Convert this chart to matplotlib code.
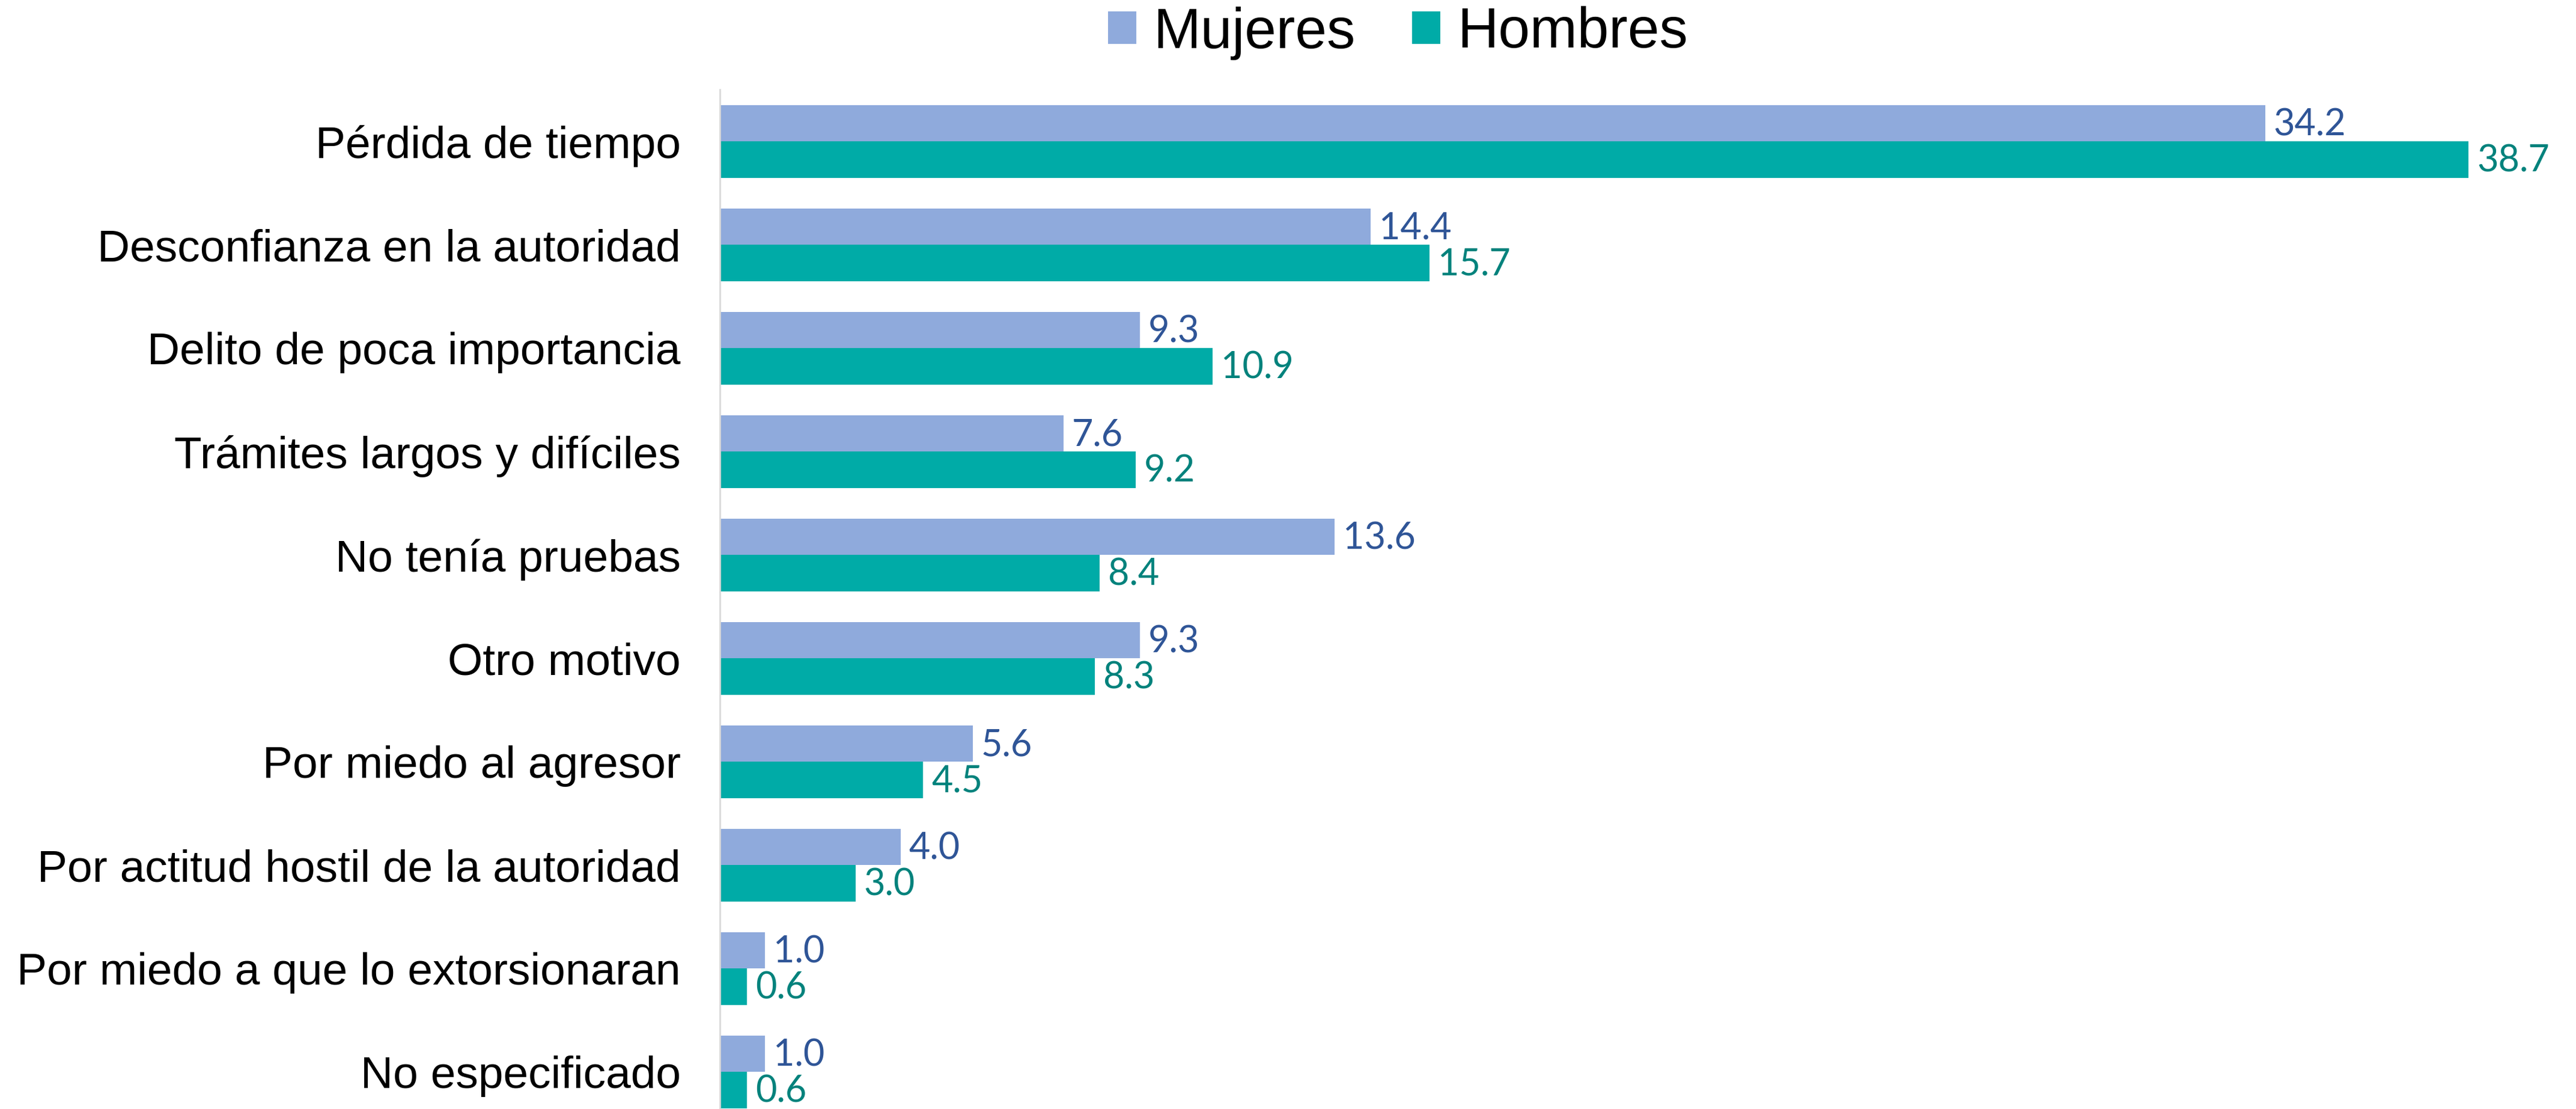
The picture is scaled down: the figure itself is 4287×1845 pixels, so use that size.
import numpy as np
import matplotlib
matplotlib.use("Agg")
import matplotlib.pyplot as plt

categorias = [
    "Pérdida de tiempo",
    "Desconfianza en la autoridad",
    "Delito de poca importancia",
    "Trámites largos y difíciles",
    "No tenía pruebas",
    "Otro motivo",
    "Por miedo al agresor",
    "Por actitud hostil de la autoridad",
    "Por miedo a que lo extorsionaran",
    "No especificado",
]
mujeres = [34.2, 14.4, 9.3, 7.6, 13.6, 9.3, 5.6, 4.0, 1.0, 1.0]
hombres = [38.7, 15.7, 10.9, 9.2, 8.4, 8.3, 4.5, 3.0, 0.6, 0.6]

col_muj = "#8FAADC"
col_hom = "#00ABA7"
txt_muj = "#2F5597"
txt_hom = "#00827C"

W, H = 4287, 1845
fig = plt.figure(figsize=(W / 100, H / 100), dpi=100)
ax = fig.add_axes([1198 / W, -24.5 / H, 40 * 75.2 / W, 1720 / H])

y = np.arange(len(categorias))
h = 0.35
b1 = ax.barh(y - h / 2, mujeres, height=h, color=col_muj, label="Mujeres")
b2 = ax.barh(y + h / 2, hombres, height=h, color=col_hom, label="Hombres")

# etiquetas de valor
for bars, vals, c in [(b1, mujeres, txt_muj), (b2, hombres, txt_hom)]:
    for rect, v in zip(bars, vals):
        ax.annotate(f"{v:.1f}", (rect.get_width(), rect.get_y() + rect.get_height() / 2),
                    xytext=(10, -2), textcoords="offset points", va="center", ha="left",
                    fontsize=44, color=c, family="Lato")

ax.set_xlim(0, 40)
ax.set_ylim(len(categorias) - 0.5, -0.5)
ax.set_yticks(y)
ax.set_yticklabels(categorias, fontsize=54, family="Liberation Sans")
ax.tick_params(axis="y", length=0, pad=47)
ax.set_xticks([])
for s in ["top", "right", "bottom"]:
    ax.spines[s].set_visible(False)
ax.spines["left"].set_color("#D9D9D9")
ax.spines["left"].set_linewidth(2)

fig.legend(handles=[b1, b2], loc="center", bbox_to_anchor=(0.5427, 1 - 55 / H),
           ncol=2, frameon=False, prop={"family": "Liberation Sans", "size": 68},
           handlelength=0.5, handleheight=0.5, handletextpad=0.3, columnspacing=1.0)

fig.savefig("out.png", dpi=100)
